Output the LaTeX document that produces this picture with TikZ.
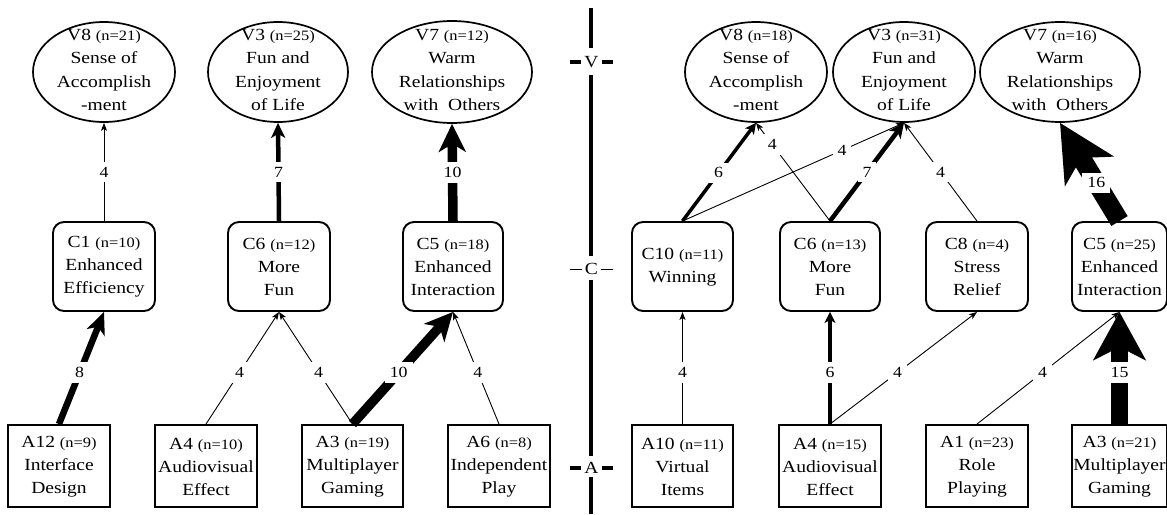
\documentclass[tikz,border=0pt]{standalone}
\usepackage{fontspec}
\setmainfont{Liberation Serif}[FakeStretch=1.15]
\usetikzlibrary{arrows.meta,shapes.geometric}
\newcommand\dgmain{\fontsize{17}{23}\selectfont}
\newcommand\dgell{\fontsize{17}{23.4}\selectfont}
\newcommand\dgsmall{\fontsize{14.3}{15}\selectfont}
\newcommand\dglab{\fontsize{15.5}{16}\selectfont}
\begin{document}
\begin{tikzpicture}[x=1pt,y=-1pt,
  ell/.style={draw, ellipse, line width=1.7pt, inner sep=0pt, minimum height=100pt},
  cbox/.style={draw, rectangle, rounded corners=11pt, line width=1.9pt, minimum width=102pt, minimum height=89pt, inner sep=0pt},
  abox/.style={draw, rectangle, line width=1.9pt, minimum width=102pt, minimum height=82pt, inner sep=0pt},
  txt/.style={align=center, inner sep=0pt, font=\dgmain},
  etxt/.style={align=center, inner sep=0pt, font=\dgell},
  lab/.style={fill=white, inner sep=5pt, font=\dglab},
  e4/.style={line width=0.9pt, -{Stealth[length=8pt,width=6pt,inset=2pt]}},
  e6/.style={line width=3.5pt, -{Stealth[length=11pt,width=11pt,inset=3pt]}},
  e7/.style={line width=4.5pt, -{Stealth[length=15pt,width=14pt,inset=4pt]}},
  e8/.style={line width=6.5pt, -{Stealth[length=22pt,width=19pt,inset=6pt]}},
  e10/.style={line width=9.5pt, -{Stealth[length=28pt,width=27pt,inset=8pt]}},
  e15/.style={line width=17pt, -{Stealth[length=48pt,width=52pt,inset=13pt]}},
  e16/.style={line width=19pt, -{Stealth[length=56pt,width=56pt,inset=15pt]}},
  divl/.style={line width=4pt},
  tickthick/.style={line width=4.5pt},
  tickthin/.style={line width=1pt}
]
\useasboundingbox (0,0) rectangle (1167,514);

% ---------- left: values ----------
\node[ell, minimum width=142pt] (v8l) at (104,72) {};
\node[etxt] at (104,70) {V8 {\dgsmall (n=21)}\\Sense of\\Accomplish\\-ment};
\node[ell, minimum width=140pt] (v3l) at (278,72) {};
\node[etxt] at (278,70) {V3 {\dgsmall (n=25)}\\Fun and\\Enjoyment\\of Life};
\node[ell, minimum width=160pt, minimum height=102pt] (v7l) at (452,72) {};
\node[etxt] at (452,70) {V7 {\dgsmall (n=12)}\\Warm\\Relationships\\with~ Others};

% ---------- left: consequences ----------
\node[cbox] (c1) at (104,266.5) {};
\node[txt] at (104,267) {C1 {\dgsmall (n=10)}\\Enhanced\\Efficiency};
\node[cbox] (c6l) at (279,266.5) {};
\node[txt] at (279,267) {C6 {\dgsmall (n=12)}\\More\\Fun};
\node[cbox, minimum width=100pt] (c5l) at (453,266.5) {};
\node[txt] at (453,267) {C5 {\dgsmall (n=18)}\\Enhanced\\Interaction};

% ---------- left: attributes ----------
\node[abox] (a12) at (59,466) {};
\node[txt] at (59,467) {A12 {\dgsmall (n=9)}\\Interface\\Design};
\node[abox] (a4l) at (206,466) {};
\node[txt] at (206,467) {A4 {\dgsmall (n=10)}\\Audiovisual\\Effect};
\node[abox, minimum width=101pt] (a3l) at (352.5,466) {};
\node[txt] at (352.5,467) {A3 {\dgsmall (n=19)}\\Multiplayer\\Gaming};
\node[abox] (a6) at (499,466) {};
\node[txt] at (499,467) {A6 {\dgsmall (n=8)}\\Independent\\Play};

% ---------- right: values ----------
\node[ell, minimum width=142pt] (v8r) at (756,72) {};
\node[etxt] at (756,70) {V8 {\dgsmall (n=18)}\\Sense of\\Accomplish\\-ment};
\node[ell, minimum width=142pt] (v3r) at (904,72) {};
\node[etxt] at (904,70) {V3 {\dgsmall (n=31)}\\Fun and\\Enjoyment\\of Life};
\node[ell, minimum width=160pt] (v7r) at (1060,72) {};
\node[etxt] at (1060,70) {V7 {\dgsmall (n=16)}\\Warm\\Relationships\\with~ Others};

% ---------- right: consequences ----------
\node[cbox, minimum width=101pt] (c10) at (682.5,266.5) {};
\node[txt] at (682.5,267) {C10 {\dgsmall (n=11)}\\Winning};
\node[cbox, minimum width=100pt] (c6r) at (830,266.5) {};
\node[txt] at (830,267) {C6 {\dgsmall (n=13)}\\More\\Fun};
\node[cbox] (c8) at (977,266.5) {};
\node[txt] at (977,267) {C8 {\dgsmall (n=4)}\\Stress\\Relief};
\node[cbox, minimum width=95pt] (c5r) at (1119.5,266.5) {};
\node[txt] at (1119.5,267) {C5 {\dgsmall (n=25)}\\Enhanced\\Interaction};

% ---------- right: attributes ----------
\node[abox, minimum width=101pt] (a10) at (682.5,466) {};
\node[txt] at (682.5,467) {A10 {\dgsmall (n=11)}\\Virtual\\Items};
\node[abox] (a4r) at (830,466) {};
\node[txt] at (830,467) {A4 {\dgsmall (n=15)}\\Audiovisual\\Effect};
\node[abox] (a1) at (977,466) {};
\node[txt] at (977,467) {A1 {\dgsmall (n=23)}\\Role\\Playing};
\node[abox, minimum width=95pt] (a3r) at (1119.5,466) {};
\node[txt] at (1119.5,467) {A3 {\dgsmall (n=21)}\\Multiplayer\\Gaming};

% ---------- left connectors ----------
\draw[e4] (c1.north) -- node[lab,pos=.5]{4} (v8l.south);
\draw[e7] (c6l.north) -- node[lab,pos=.5]{7} (v3l.south);
\draw[e10] (c5l.north) -- node[lab,pos=.5]{10} (v7l.south);
\draw[e8] (a12.north) -- node[lab,pos=.46]{8} (c1.south);
\draw[e4] (a4l.north) -- node[lab,pos=.46]{4} (c6l.south);
\draw[e4] (a3l.north) -- node[lab,pos=.46]{4} (c6l.south);
\draw[e10] (a3l.north) -- node[lab,pos=.46]{10} (c5l.south);
\draw[e4] (a6.north) -- node[lab,pos=.46]{4} (c5l.south);

% ---------- right connectors ----------
\draw[e6] (c10.north) -- node[lab,pos=.49]{6} (v8r.south);
\draw[e4] (c10.north) -- node[lab,pos=.72]{4} (v3r.south);
\draw[e4] (c6r.north) -- node[lab,pos=.78]{4} (v8r.south);
\draw[e7] (c6r.north) -- node[lab,pos=.5]{7} (v3r.south);
\draw[e4] (c8.north) -- node[lab,pos=.5]{4} (v3r.south);
\draw[e16] (c5r.north) -- node[lab,pos=.39]{16} (v7r.south);
\draw[e4] (a10.north) -- node[lab,pos=.46]{4} (c10.south);
\draw[e6] (a4r.north) -- node[lab,pos=.46]{6} (c6r.south);
\draw[e4] (a4r.north) -- node[lab,pos=.46]{4} (c8.south);
\draw[e4] (a1.north) -- node[lab,pos=.46]{4} (c5r.south);
\draw[e15] (a3r.north) -- node[lab,pos=.46]{15} (c5r.south);

% ---------- divider with level marks ----------
\node[font=\dgmain, inner sep=0pt] (lv) at (591.5,62) {V};
\node[font=\dgmain, inner sep=0pt] (lc) at (591.5,269) {C};
\node[font=\dgmain, inner sep=0pt] (la) at (591.5,468) {A};
\draw[divl] (591,8) -- (591,48);
\draw[divl] (591,75) -- (591,256);
\draw[divl] (591,280) -- (591,456);
\draw[divl] (591,477) -- (591,514);
\draw[tickthick] (570,62) -- (581,62) (602,62) -- (613,62);
\draw[tickthin] (570,269) -- (582,269) (601,269) -- (613,269);
\draw[tickthick] (570,468) -- (581,468) (602,468) -- (613,468);
\end{tikzpicture}
\end{document}
